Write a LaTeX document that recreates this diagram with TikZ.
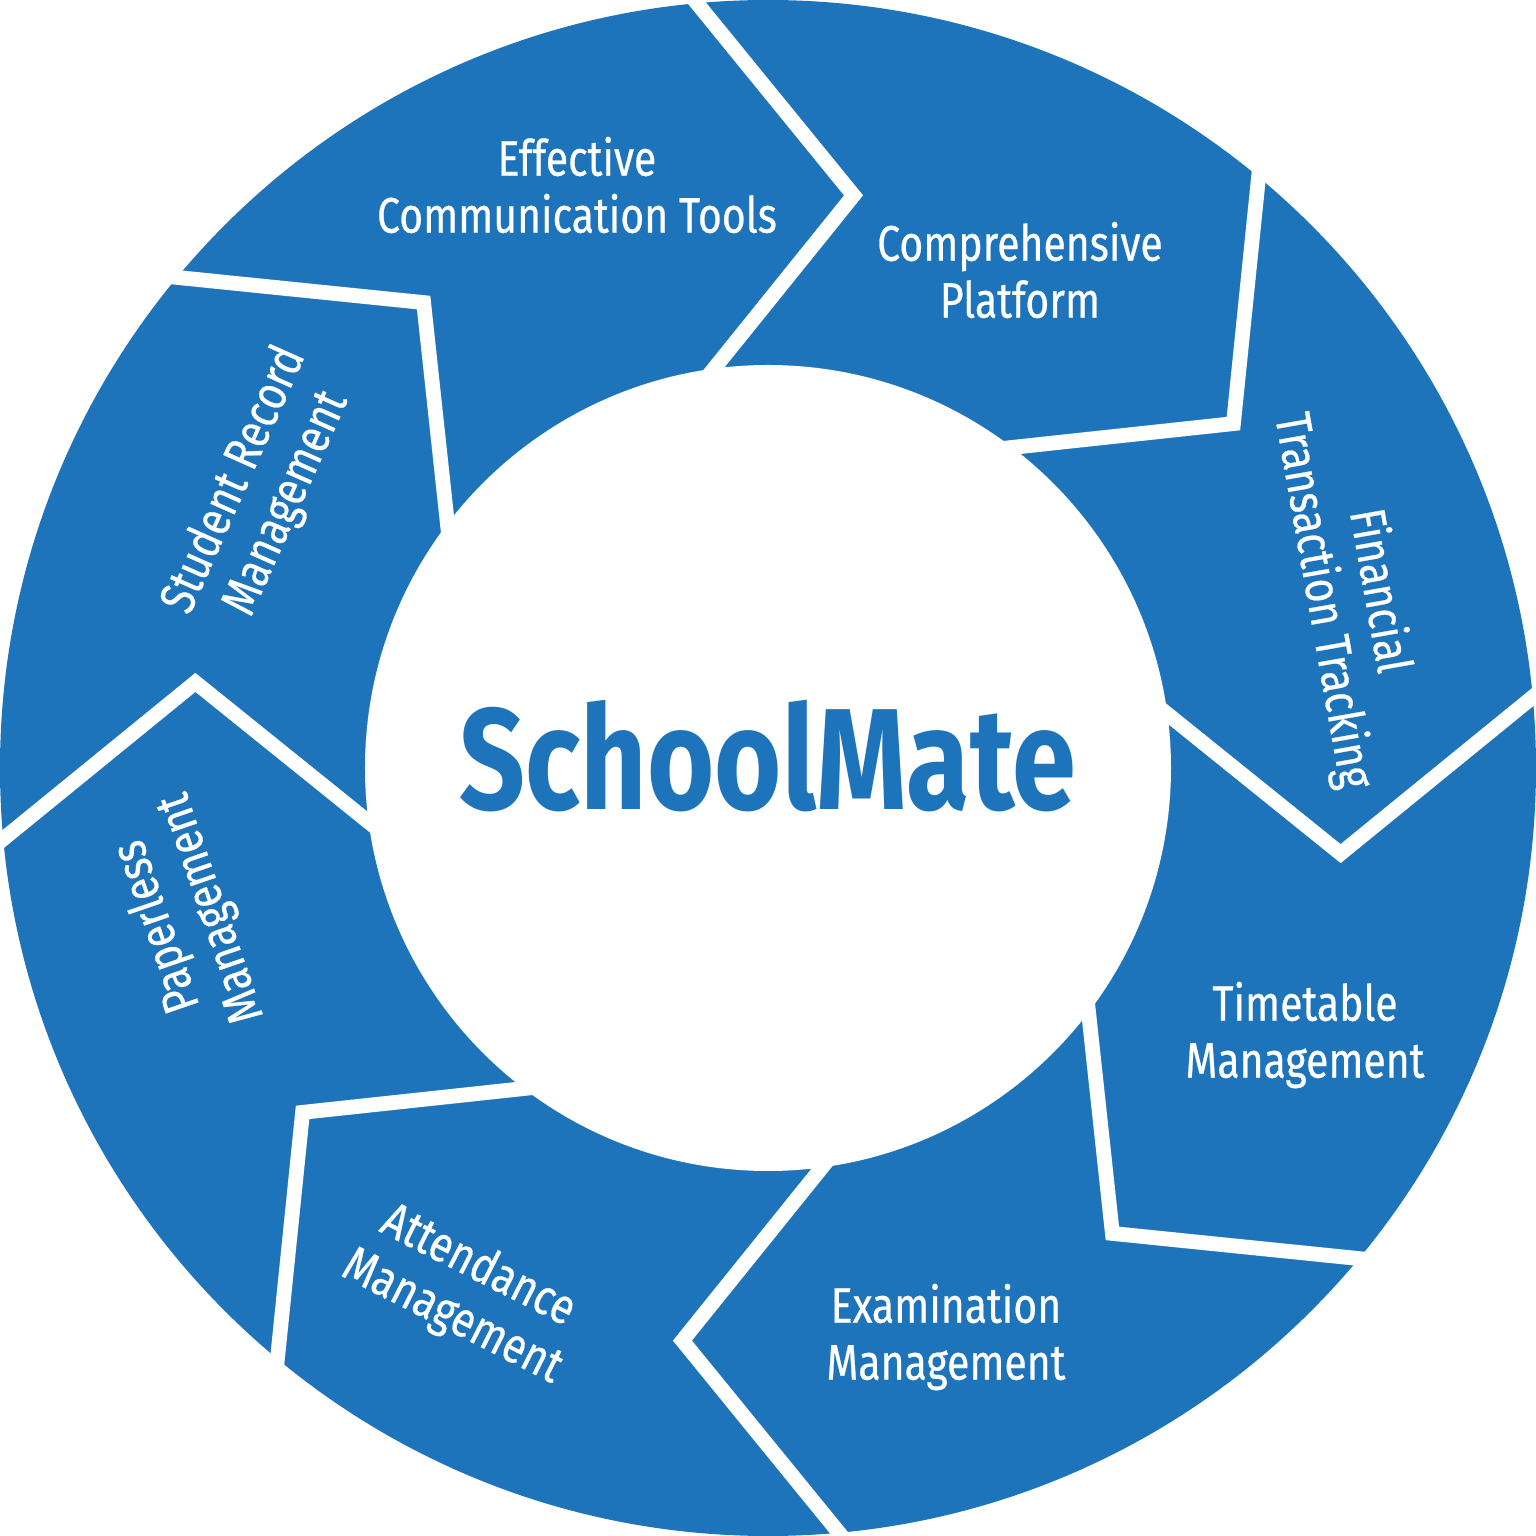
\documentclass[tikz,border=0pt]{standalone}
\usepackage{fontspec}
\setmainfont{Fira Sans}[FakeStretch=0.82]
\newfontfamily\labelfont{Fira Sans}[FakeStretch=0.82,FakeBold=0.5]
\newfontfamily\hubfont{Fira Sans}[FakeStretch=0.8]
\definecolor{ringblue}{RGB}{30,116,187}

\begin{document}
\begin{tikzpicture}
	[every node/.style={text=white,align=center,font=\labelfont\fontsize{14.2}{16.2}\selectfont}]
	\tikzset{gap/.style = {draw=white,line width=4.2pt,shorten <=-12pt,shorten >=-6pt}}
	\useasboundingbox (-7.68,-7.68) rectangle (7.68,7.68);
	\fill[ringblue] (0,0) circle (7.68);
	\fill[white] (0,0) circle (4.03);
	
	\foreach \a in {0,45,...,315}
	\draw[gap] (\a+5.3:7.68) -- (\a-8.5:5.79) -- (\a+7.7:4.03);
	
	\node (hub) at (0,-0.42) [anchor=base,text=ringblue,font=\hubfont\fontsize{41}{45}\selectfont\bfseries] {SchoolMate};
	\node (comm) at (-1.91,5.83) {Effective\\Communication Tools};
	\node (plat) at (2.52,4.98) {Comprehensive\\Platform};
	\node (fin) at (5.82,1.72) [rotate=-80] {Financial\\Transaction Tracking};
	\node (time) at (5.37,-2.67) {Timetable\\Management};
	\node (exam) at (1.78,-5.69) {Examination\\Management};
	\node (att) at (-3.03,-5.24) [rotate=-27] {Attendance\\Management};
	\node (paper) at (-5.83,-1.49) [rotate=109] {Paperless\\Management};
	\node (stud) at (-5.07,2.76) [rotate=66] {Student Record\\Management};
\end{tikzpicture}
\end{document}
